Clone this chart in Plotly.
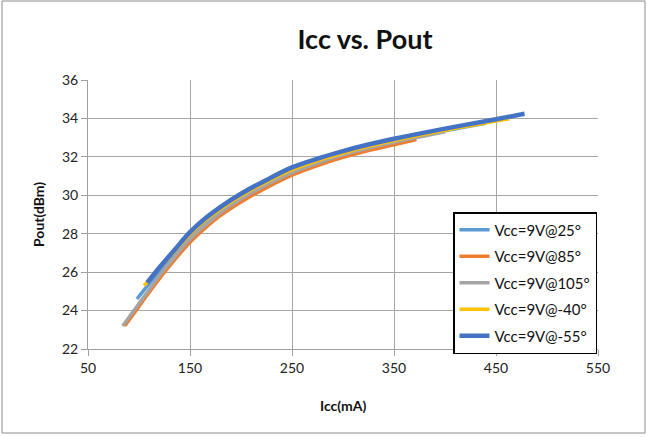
import plotly.graph_objects as go

# Data
series_names = ["Vcc=9V@25°", "Vcc=9V@85°", "Vcc=9V@105°", "Vcc=9V@-40°", "Vcc=9V@-55°"]

icc_25 = [98, 110, 125, 150, 165, 180, 200, 225, 250, 275, 300, 325, 350, 400, 440]
pout_25 = [24.6, 25.4, 26.35, 27.88, 28.6, 29.23, 29.92, 30.65, 31.28, 31.76, 32.17, 32.52, 32.82, 33.36, 33.75]

icc_85 = [86, 95, 110, 125, 150, 165, 180, 200, 225, 250, 275, 300, 325, 350, 372]
pout_85 = [23.2, 23.85, 24.95, 26.0, 27.55, 28.3, 28.95, 29.65, 30.4, 31.05, 31.55, 31.97, 32.33, 32.63, 32.9]

icc_105 = [84, 95, 110, 125, 150, 165, 180, 200, 225, 250, 275, 300, 325, 350, 400]
pout_105 = [23.2, 24.0, 25.1, 26.15, 27.72, 28.45, 29.1, 29.8, 30.55, 31.18, 31.68, 32.1, 32.46, 32.76, 33.3]

icc_m40 = [105, 120, 135, 150, 165, 180, 200, 225, 250, 275, 300, 325, 350, 400, 463]
pout_m40 = [25.3, 26.2, 27.1, 27.97, 28.7, 29.3, 29.98, 30.7, 31.33, 31.8, 32.2, 32.55, 32.85, 33.38, 33.98]

icc_m55 = [108, 120, 135, 150, 165, 180, 200, 225, 250, 275, 300, 325, 350, 400, 450, 478]
pout_m55 = [25.45, 26.24, 27.17, 28.08, 28.8, 29.4, 30.08, 30.8, 31.45, 31.91, 32.3, 32.64, 32.94, 33.47, 33.96, 34.24]

x_ticks = [50, 150, 250, 350, 450, 550]
y_ticks = [22, 24, 26, 28, 30, 32, 34, 36]

colors = ["#5B9BD5", "#ED7D31", "#A5A5A5", "#FFC000", "#4472C4"]
widths = [3.5, 3.5, 3.5, 3.5, 4.5]

xs = [icc_25, icc_85, icc_105, icc_m40, icc_m55]
ys = [pout_25, pout_85, pout_105, pout_m40, pout_m55]

font_family = "Lato, 'Open Sans', Arial, sans-serif"

fig = go.Figure()
for i, (name, x, y, c, w) in enumerate(zip(series_names, xs, ys, colors, widths)):
    fig.add_trace(go.Scatter(
        x=x, y=y, name=name, mode="lines", legendgroup=f"g{i}",
        line=dict(color=c, width=w, shape="spline", smoothing=1.0),
    ))

fig.update_layout(
    width=647, height=437,
    margin=dict(l=88, r=49, t=80, b=88, autoexpand=False),
    paper_bgcolor="white", plot_bgcolor="white",
    font=dict(family=font_family, size=14, color="#222222"),
    title=dict(text="<b>Icc vs. Pout</b>", x=365 / 647, xanchor="center",
               y=1 - 40 / 437, yanchor="middle", font=dict(size=27, color="#111111")),
    showlegend=True,
    legend=dict(x=(453 - 88) / 510, y=(349 - 212) / 269, xanchor="left", yanchor="top",
                bgcolor="white", bordercolor="black", borderwidth=1.5,
                font=dict(size=15, color="#111111"), tracegroupgap=4,
                itemwidth=30),
    xaxis=dict(range=[50, 550], tickvals=x_ticks, ticks="outside", ticklen=6,
               tickcolor="#A0A0A0", showgrid=True, gridcolor="#A6A6A6", gridwidth=1,
               showline=True, linecolor="#A0A0A0", linewidth=1, zeroline=False,
               automargin=False, tickfont=dict(size=14)),
    yaxis=dict(range=[22, 36], tickvals=y_ticks, ticks="outside", ticklen=6,
               tickcolor="#A0A0A0", showgrid=True, gridcolor="#A6A6A6", gridwidth=1,
               showline=True, linecolor="#A0A0A0", linewidth=1, zeroline=False,
               automargin=False, tickfont=dict(size=14)),
    annotations=[
        dict(text="<b>Icc(mA)</b>", xref="paper", yref="paper",
             x=(343 - 88) / 510, y=(349 - 405) / 269, xanchor="center", yanchor="middle",
             showarrow=False, font=dict(size=14, color="#111111")),
        dict(text="<b>Pout(dBm)</b>", xref="paper", yref="paper",
             x=(38 - 88) / 510, y=(349 - 215) / 269, xanchor="center", yanchor="middle",
             textangle=-90, showarrow=False, font=dict(size=14, color="#111111")),
    ],
    shapes=[dict(type="rect", xref="paper", yref="paper",
                 x0=(2 - 88) / 510, x1=(645 - 88) / 510,
                 y0=(349 - 433) / 269, y1=(349 - 1) / 269,
                 line=dict(color="#8C8C8C", width=1), fillcolor="rgba(0,0,0,0)",
                 layer="below")],
)

fig.write_html("out.html", config={"displayModeBar": False},
               post_script="document.body.style.margin='0';")
